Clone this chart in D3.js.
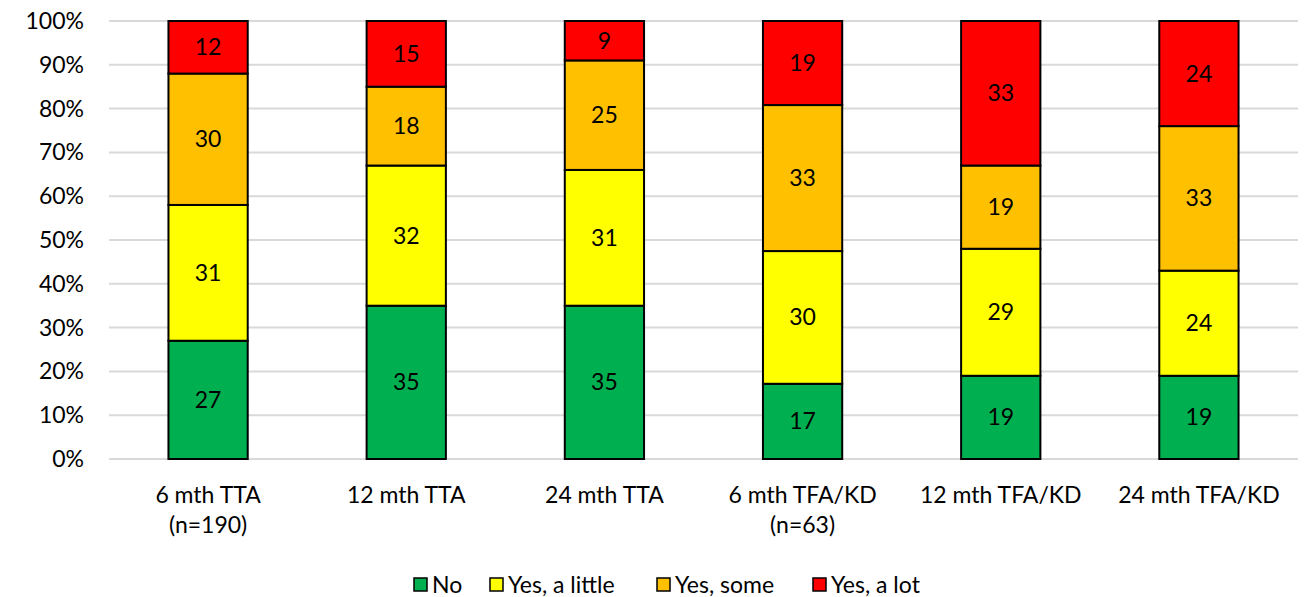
<!DOCTYPE html>
<html><head><meta charset="utf-8">
<script src="https://cdn.jsdelivr.net/npm/d3@7"></script>
<style>body{margin:0;background:#fff}text{font-family:Lato,"Open Sans",sans-serif;fill:#000}</style>
</head><body><svg id="c" width="1308" height="597"></svg>
<script>
const categories = [["6 mth TTA","(n=190)"],["12 mth TTA"],["24 mth TTA"],["6 mth TFA/KD","(n=63)"],["12 mth TFA/KD"],["24 mth TFA/KD"]];
const seriesNames = ["No","Yes, a little","Yes, some","Yes, a lot"];
const seriesColors = ["#00b050","#ffff00","#ffc000","#ff0000"];
const no = [27,35,35,17,19,19];
const little = [31,32,31,30,29,24];
const some = [30,18,25,33,19,33];
const lot = [12,15,9,19,33,24];
const yTicks = [0,0.1,0.2,0.3,0.4,0.5,0.6,0.7,0.8,0.9,1];

const FS = "23px";
const svg = d3.select("#c");
const m = {l:109, r:1298, t:21, b:459};
const x = d3.scaleBand().domain(d3.range(categories.length)).range([m.l,m.r]).paddingInner(0.6).paddingOuter(0.3);
const y = d3.scaleLinear().domain([0,1]).range([m.b,m.t]);

svg.append("g").selectAll("line").data(yTicks).join("line")
  .attr("x1",m.l).attr("x2",m.r).attr("y1",d=>y(d)).attr("y2",d=>y(d))
  .attr("stroke","#d9d9d9").attr("stroke-width",2);
svg.append("g").selectAll("text").data(yTicks).join("text")
  .attr("x",84).attr("y",d=>y(d)).attr("dy","0.35em").attr("text-anchor","end")
  .style("font-size",FS).text(d=>Math.round(d*100)+"%");

const vals = [no,little,some,lot];
const rows = categories.map((c,i)=>{const o={i}; seriesNames.forEach((s,k)=>o[s]=vals[k][i]); return o;});
const stack = d3.stack().keys(seriesNames).offset(d3.stackOffsetExpand);
const layers = stack(rows);
const g = svg.append("g");
layers.forEach((layer,k)=>{
  g.append("g").selectAll("rect").data(layer).join("rect")
    .attr("x",d=>x(d.data.i)).attr("width",x.bandwidth())
    .attr("y",d=>y(d[1])).attr("height",d=>y(d[0])-y(d[1]))
    .attr("fill",seriesColors[k]).attr("stroke","#000").attr("stroke-width",2);
});
layers.forEach((layer,k)=>{
  g.append("g").selectAll("text").data(layer).join("text")
    .attr("x",d=>x(d.data.i)+x.bandwidth()/2).attr("y",d=>(y(d[0])+y(d[1]))/2)
    .attr("dy","0.35em").attr("text-anchor","middle").style("font-size",FS)
    .text(d=>d.data[seriesNames[k]]);
});
const xl = svg.append("g");
categories.forEach((c,i)=>{
  c.forEach((line,j)=>{
    xl.append("text").attr("x",x(i)+x.bandwidth()/2).attr("y",495+j*30).attr("dy","0.35em")
      .attr("text-anchor","middle").style("font-size",FS).text(line);
  });
});
const legX = [414,490,657,813];
const leg = svg.append("g");
seriesNames.forEach((s,k)=>{
  leg.append("rect").attr("x",legX[k]).attr("y",578).attr("width",13).attr("height",13)
    .attr("fill",seriesColors[k]).attr("stroke","#000").attr("stroke-width",1.5);
  leg.append("text").attr("x",legX[k]+18).attr("y",585).attr("dy","0.35em").style("font-size",FS).text(s);
});
</script></body></html>
